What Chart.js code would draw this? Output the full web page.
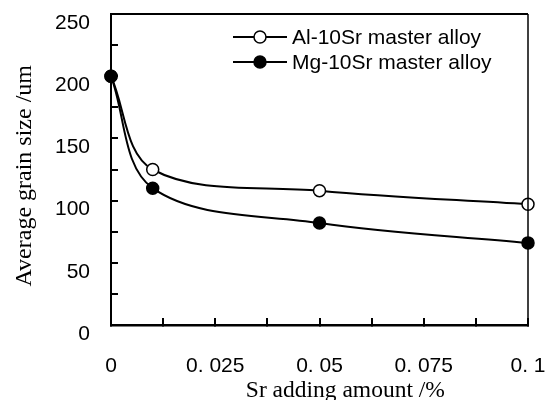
<!DOCTYPE html>
<html>
<head>
<meta charset="utf-8">
<script src="https://cdn.jsdelivr.net/npm/chart.js@4"></script>
<style>
html,body{margin:0;padding:0;background:#fff;}
#wrap{width:552px;height:400px;position:relative;}
</style>
</head>
<body>
<div id="wrap"><canvas id="c" width="552" height="400"></canvas></div>
<script>
// ---- data ----
const xValues = [0, 0.01, 0.05, 0.1];
const alValues = [200, 125, 108, 97];
const mgValues = [200, 110, 82, 66];
const seriesNames = ['Al-10Sr master alloy', 'Mg-10Sr master alloy'];
const xMajorTicks = [0, 0.025, 0.05, 0.075, 0.1];
const xTickLabels = ['0', '0. 025', '0. 05', '0. 075', '0. 1'];
const yMajorTicks = [0, 50, 100, 150, 200, 250];
const yTickLabels = ['0', '50', '100', '150', '200', '250'];
const xTitle = 'Sr adding amount /%';
const yTitle = 'Average grain size /um';

const sans = '"Liberation Sans", Arial, sans-serif';
const serif = '"Liberation Serif", "Times New Roman", serif';

function pts(xs, ys) { return xs.map((x, i) => ({x: x, y: ys[i]})); }
function noPad(s) { s.paddingTop = 0; s.paddingBottom = 0; s.paddingLeft = 0; s.paddingRight = 0; }

const framePlugin = {
  id: 'frame',
  afterDraw(chart) {
    const ctx = chart.ctx, a = chart.chartArea;
    ctx.save();
    ctx.strokeStyle = '#000';
    ctx.lineWidth = 2;
    ctx.beginPath();
    ctx.moveTo(a.left, a.top);
    ctx.lineTo(a.right, a.top);
    ctx.stroke();
    ctx.lineWidth = 1.5;
    ctx.beginPath();
    ctx.moveTo(a.right, a.top);
    ctx.lineTo(a.right, a.bottom);
    ctx.stroke();

    // axis titles
    ctx.fillStyle = '#000';
    ctx.font = '23.5px ' + serif;
    ctx.textAlign = 'center';
    ctx.textBaseline = 'alphabetic';
    ctx.fillText(xTitle, a.left + (a.right - a.left) * 0.562, 397);
    ctx.save();
    ctx.translate(31, a.top + (a.bottom - a.top) * 0.52);
    ctx.rotate(-Math.PI / 2);
    ctx.font = '24px ' + serif;
    ctx.fillText(yTitle, 0, 0);
    ctx.restore();

    // legend
    const rows = [37, 62];
    chart.data.datasets.forEach((ds, i) => {
      const y = rows[i];
      ctx.strokeStyle = '#000';
      ctx.lineWidth = 2;
      ctx.beginPath();
      ctx.moveTo(233, y);
      ctx.lineTo(287, y);
      ctx.stroke();
      ctx.beginPath();
      ctx.arc(260, y, 6, 0, Math.PI * 2);
      ctx.fillStyle = ds.pointBackgroundColor;
      ctx.fill();
      ctx.lineWidth = 1.5;
      ctx.stroke();
      ctx.fillStyle = '#000';
      ctx.font = '21px ' + sans;
      ctx.textAlign = 'left';
      ctx.textBaseline = 'middle';
      ctx.fillText(ds.label, 292, y + 1);
    });
    ctx.restore();
  }
};

new Chart(document.getElementById('c'), {
  type: 'line',
  data: {
    datasets: [
      {
        label: seriesNames[0],
        data: pts(xValues, alValues),
        borderColor: '#000',
        borderWidth: 2,
        pointBackgroundColor: '#fff',
        pointBorderColor: '#000',
        pointBorderWidth: 1.5,
        pointRadius: 6,
        tension: 0.35,
        clip: false,
        order: 1
      },
      {
        label: seriesNames[1],
        data: pts(xValues, mgValues),
        borderColor: '#000',
        borderWidth: 2,
        pointBackgroundColor: '#000',
        pointBorderColor: '#000',
        pointBorderWidth: 1.5,
        pointRadius: 6,
        tension: 0.35,
        clip: false,
        order: 0
      }
    ]
  },
  options: {
    responsive: false,
    animation: false,
    devicePixelRatio: 1,
    layout: { padding: { left: 0, top: 14, right: 24, bottom: 0 } },
    plugins: { legend: { display: false }, tooltip: { enabled: false } },
    scales: {
      x: {
        type: 'linear',
        min: 0,
        max: 0.1,
        afterFit(s) { s.height = 75; noPad(s); },
        border: { display: true, color: '#000', width: 2.5 },
        grid: { drawOnChartArea: false, drawTicks: true, tickLength: -7, color: '#000', lineWidth: 2 },
        ticks: {
          stepSize: 0.0125,
          autoSkip: false,
          maxRotation: 0,
          padding: 36,
          color: '#000',
          font: { family: sans, size: 21 },
          callback(v) {
            const i = xMajorTicks.findIndex(t => Math.abs(t - v) < 1e-9);
            return i >= 0 ? xTickLabels[i] : '';
          }
        }
      },
      y: {
        min: 0,
        max: 250,
        afterFit(s) { s.width = 111; noPad(s); },
        border: { display: true, color: '#000', width: 2 },
        grid: { drawOnChartArea: false, drawTicks: true, tickLength: -7, color: '#000', lineWidth: 2 },
        ticks: {
          stepSize: 25,
          autoSkip: false,
          padding: 28,
          labelOffset: 9,
          color: '#000',
          font: { family: sans, size: 21 },
          callback(v) {
            const i = yMajorTicks.indexOf(v);
            return i >= 0 ? yTickLabels[i] : '';
          }
        }
      }
    }
  },
  plugins: [framePlugin]
});
</script>
</body>
</html>
